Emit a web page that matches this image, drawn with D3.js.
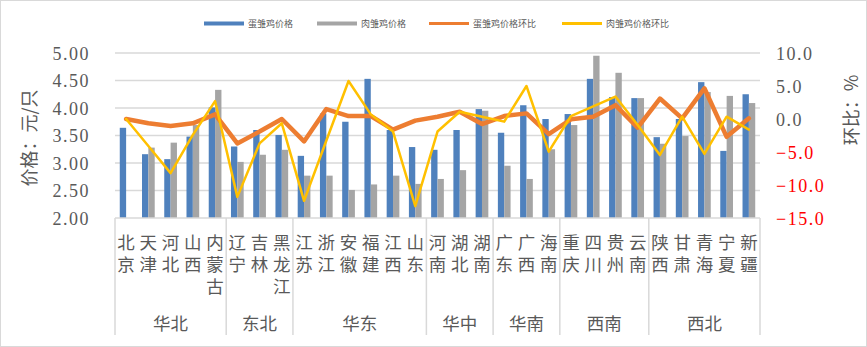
<!DOCTYPE html>
<html><head><meta charset="utf-8">
<script src="https://cdn.jsdelivr.net/npm/d3@7"></script>
<style>
html,body{margin:0;padding:0;background:#fff;}
svg{display:block;}
</style></head>
<body>
<svg id="chart" width="867" height="347"></svg>
<script>
const categories = ["北京","天津","河北","山西","内蒙古","辽宁","吉林","黑龙江","江苏","浙江","安徽","福建","江西","山东","河南","湖北","湖南","广东","广西","海南","重庆","四川","贵州","云南","陕西","甘肃","青海","宁夏","新疆"];
const regionNames = ["华北","东北","华东","华中","华南","西南","西北"];
const regionSizes = [5,3,6,3,3,4,5];
const eggPrice = [3.64,3.16,3.07,3.48,4.01,3.30,3.60,3.51,3.13,3.90,3.75,4.53,3.60,3.29,3.24,3.60,3.98,3.55,4.05,3.80,3.89,4.53,4.20,4.18,3.47,3.80,4.47,3.22,4.25];
const meatPrice = [null,3.28,3.37,3.69,4.33,3.02,3.15,3.24,2.77,2.77,2.51,2.61,2.77,2.62,2.71,2.87,3.95,2.95,2.71,3.25,3.69,4.95,4.64,4.18,3.35,3.49,4.29,4.22,4.09];
const eggMoM = [0.0,-0.65,-1.06,-0.65,0.7,-3.7,-1.9,0.0,-3.4,1.5,0.45,0.45,-1.6,-0.25,0.35,1.1,-0.76,0.45,0.85,-2.3,-0.05,0.35,2.1,-1.3,3.1,0.1,4.65,-2.7,0.1];
const meatMoM = [0.0,-4.1,-8.2,-2.4,2.7,-11.8,-3.7,-0.65,-12.4,-3.3,5.76,0.7,-1.9,-13.2,-1.9,1.1,0.35,-0.4,5.0,-4.95,0.45,1.9,3.4,-0.9,-5.45,0.35,-5.3,0.35,-1.6];
const leftTicks = [2.0,2.5,3.0,3.5,4.0,4.5,5.0];
const rightTicks = [-15,-10,-5,0,5,10];
const seriesNames = ["蛋雏鸡价格","肉雏鸡价格","蛋雏鸡价格环比","肉雏鸡价格环比"];
const colors = ["#4F81BD","#A5A5A5","#ED7D31","#FFC000"];

const svg = d3.select("#chart");
const W = 867, H = 347;
const plot = {l:115, r:760, t:53, b:218};
const textColor = "#595959";
const cjk = "'Noto Sans CJK SC','Noto Sans',sans-serif";
const numFont = "'Liberation Serif','DejaVu Serif',serif";

svg.append("rect").attr("x",0.5).attr("y",0.5).attr("width",W-1).attr("height",H-1)
  .attr("fill","#fff").attr("stroke","#D9D9D9");

const x = d3.scaleBand().domain(categories).range([plot.l, plot.r]).paddingInner(0).paddingOuter(0);
const bw = x.bandwidth()/3.5;
const xs = d3.scaleBand().domain([0,1]).range([0, 2*bw]);
const yL = d3.scaleLinear().domain([2,5]).range([plot.b, plot.t]);
const yR = d3.scaleLinear().domain([-15,10]).range([plot.b, plot.t]);

// gridlines
svg.append("g").selectAll("line").data(leftTicks.slice(1)).join("line")
  .attr("x1",plot.l).attr("x2",plot.r)
  .attr("y1",d=>yL(d)).attr("y2",d=>yL(d))
  .attr("stroke","#D9D9D9").attr("stroke-width",1.5);

// left axis labels
const la = d3.axisLeft(yL).tickValues(leftTicks).tickFormat(d3.format(".2f")).tickSize(0).tickPadding(0);
const gL = svg.append("g").attr("transform",`translate(90,0)`).call(la);
gL.select(".domain").remove();
gL.selectAll("text").attr("font-family",numFont).attr("font-size",18).attr("fill",textColor)
  .attr("letter-spacing","1.5px").attr("dy","0.35em");

// right axis labels
const ra = d3.axisRight(yR).tickValues(rightTicks).tickFormat(d3.format(".1f")).tickSize(0).tickPadding(0);
const gR = svg.append("g").attr("transform",`translate(776,0)`).call(ra);
gR.select(".domain").remove();
gR.selectAll("text").attr("font-family",numFont).attr("font-size",18)
  .attr("fill",d=>d<0?"#FF0000":textColor).attr("letter-spacing","1.5px").attr("dy","0.35em")
  .text(d=>d<0?"−"+d3.format(".1f")(-d):d3.format(".1f")(d));

// bars
const bars = svg.append("g");
bars.selectAll("rect.egg").data(categories).join("rect").attr("class","egg")
  .attr("x",(d,i)=>x(d)+x.bandwidth()/2-bw+xs(0)).attr("width",bw)
  .attr("y",(d,i)=>yL(eggPrice[i])).attr("height",(d,i)=>plot.b-yL(eggPrice[i]))
  .attr("fill",colors[0]);
bars.selectAll("rect.meat").data(categories.filter((d,i)=>meatPrice[i]!=null)).join("rect").attr("class","meat")
  .attr("x",d=>x(d)+x.bandwidth()/2-bw+xs(1)).attr("width",bw)
  .attr("y",d=>yL(meatPrice[categories.indexOf(d)])).attr("height",d=>plot.b-yL(meatPrice[categories.indexOf(d)]))
  .attr("fill",colors[1]);

// axis line
svg.append("line").attr("x1",plot.l).attr("x2",plot.r).attr("y1",plot.b).attr("y2",plot.b)
  .attr("stroke","#D9D9D9").attr("stroke-width",1.5);

// lines
const line = d3.line().x((d,i)=>x(categories[i])+x.bandwidth()/2).y(d=>yR(d));
svg.append("path").datum(eggMoM).attr("d",line).attr("fill","none")
  .attr("stroke",colors[2]).attr("stroke-width",4.5).attr("stroke-linejoin","round").attr("stroke-linecap","round");
svg.append("path").datum(meatMoM).attr("d",line).attr("fill","none")
  .attr("stroke",colors[3]).attr("stroke-width",2.5).attr("stroke-linejoin","round").attr("stroke-linecap","round");

// category labels (vertical writing mode, one text per category)
const catG = svg.append("g");
catG.selectAll("text").data(categories).join("text")
  .attr("x",d=>x(d)+x.bandwidth()/2).attr("y",234)
  .attr("writing-mode","vertical-rl")
  .style("text-orientation","upright")
  .attr("letter-spacing","4.3px")
  .attr("font-family",cjk).attr("font-size",17.5).attr("fill",textColor)
  .text(d=>d);

// group separators and labels
let start = 0;
const bounds = [plot.l];
regionNames.forEach((r,k)=>{
  const s = categories[start], e = categories[start+regionSizes[k]-1];
  const x0 = x(s), x1 = x(e)+x.bandwidth();
  bounds.push(x1);
  svg.append("text").attr("x",(x0+x1)/2).attr("y",322).attr("text-anchor","middle")
    .attr("dominant-baseline","central").attr("font-family",cjk).attr("font-size",17.5)
    .attr("fill",textColor).text(r);
  start += regionSizes[k];
});
svg.append("g").selectAll("line").data(bounds).join("line")
  .attr("x1",d=>d).attr("x2",d=>d).attr("y1",plot.b).attr("y2",335)
  .attr("stroke","#D9D9D9").attr("stroke-width",1.5);

// axis titles
svg.append("text").attr("transform","translate(28,138) rotate(-90)").attr("text-anchor","middle")
  .attr("dominant-baseline","central").attr("font-family",cjk).attr("font-size",18)
  .attr("fill",textColor).text("价格：元/只");
svg.append("text").attr("transform","translate(850,110) rotate(-90)").attr("text-anchor","middle")
  .attr("dominant-baseline","central").attr("font-family",cjk).attr("font-size",18)
  .attr("fill",textColor).text("环比：%");

// legend
const legX = [204,317,429,562];
const legG = svg.append("g");
seriesNames.forEach((n,i)=>{
  legG.append("line").attr("x1",legX[i]).attr("x2",legX[i]+40).attr("y1",23.5).attr("y2",23.5)
    .attr("stroke",colors[i]).attr("stroke-width",i<2?4:3);
  legG.append("text").attr("x",legX[i]+44).attr("y",23.5).attr("dominant-baseline","central")
    .attr("font-family",cjk).attr("font-size",9).attr("fill",textColor).text(n);
});
</script>
</body></html>
